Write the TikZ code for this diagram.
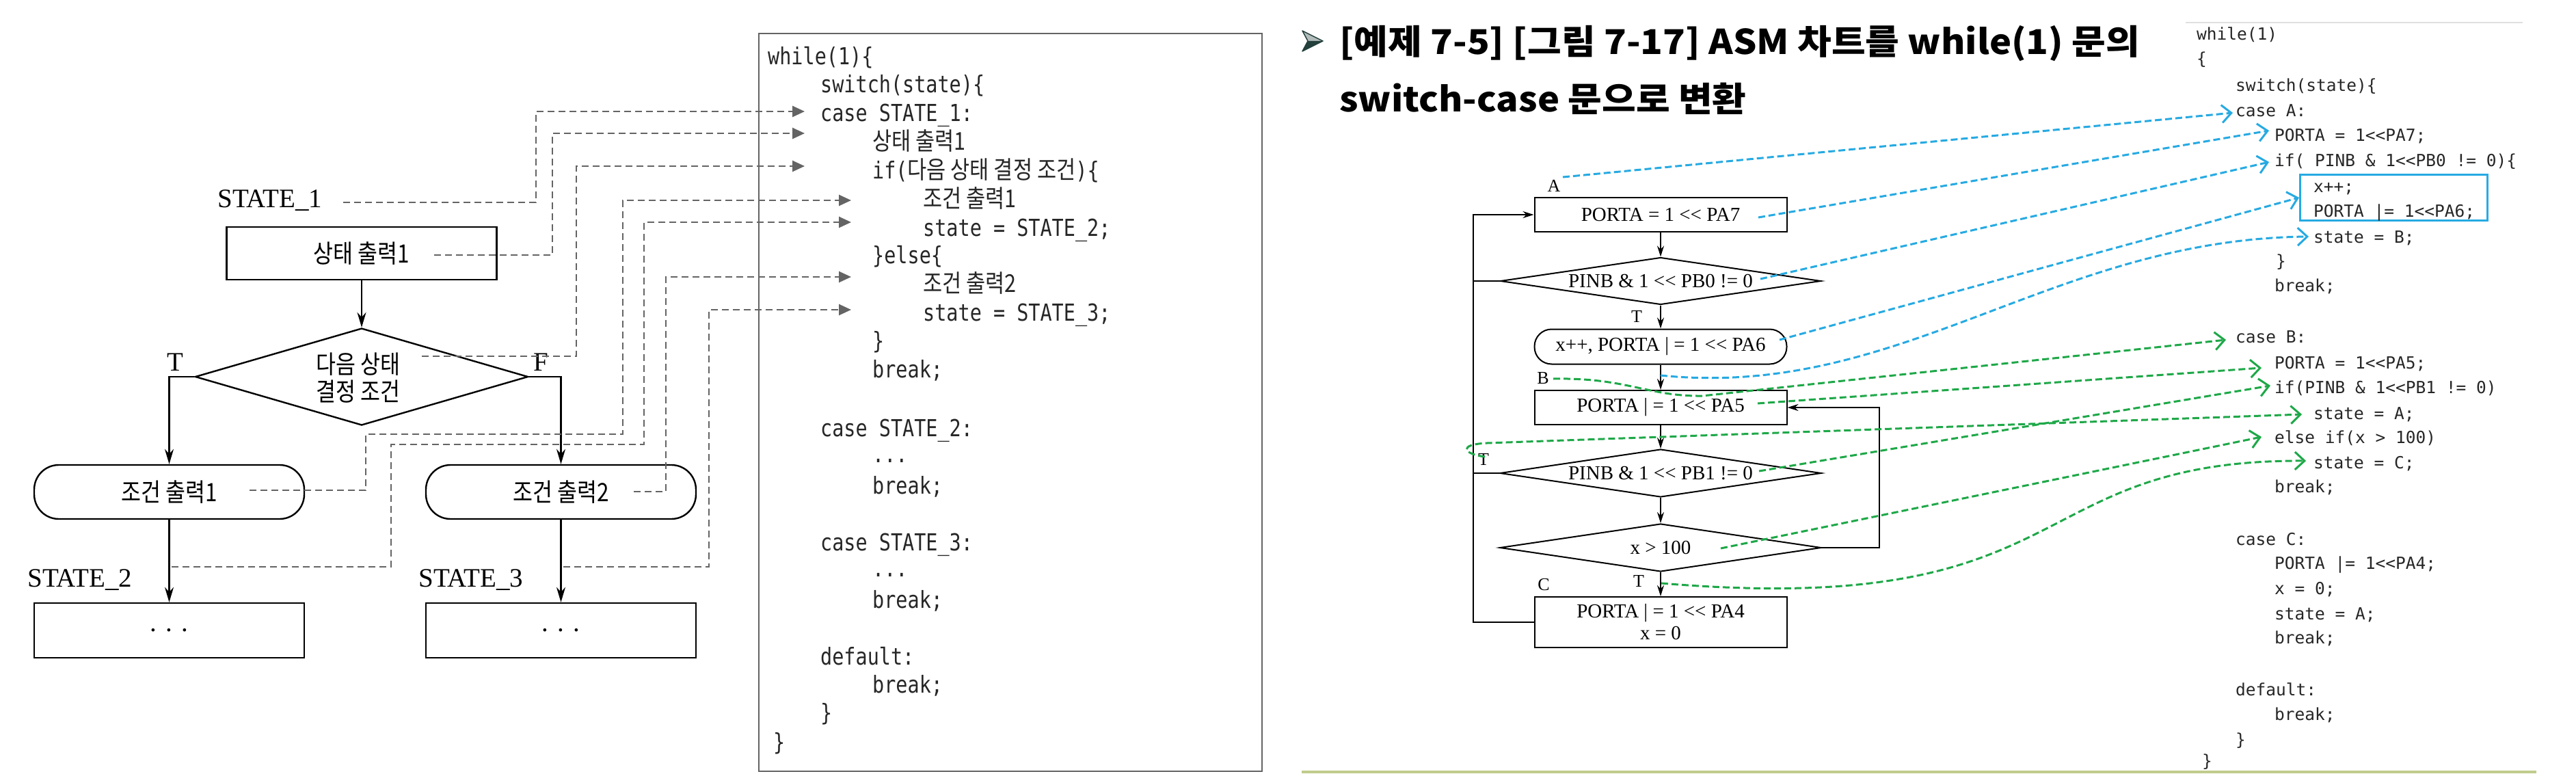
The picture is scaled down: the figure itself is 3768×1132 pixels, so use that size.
\documentclass[tikz,border=0pt]{standalone}
\usepackage{fontspec}
\setmainfont{Liberation Serif}
\newfontfamily\krf{Noto Sans CJK KR}[FakeStretch=0.85]
\newfontfamily\krtitle{Noto Sans CJK KR}[FakeStretch=1.08]
\newfontfamily\lmonof{DejaVu Sans Mono}[FakeStretch=0.83]
\newfontfamily\rmonof{DejaVu Sans Mono}
\usetikzlibrary{arrows.meta,shapes.geometric}
\newcommand\KR[1]{{\krf\fontsize{36pt}{42pt}\selectfont #1}}
\newcommand\shl{<{}<}
\definecolor{cblue}{RGB}{38,170,226}
\definecolor{cgreen}{RGB}{30,168,72}
\definecolor{dgray}{RGB}{100,100,100}
\definecolor{lineolive}{RGB}{192,204,140}
\definecolor{bulletc}{RGB}{36,64,60}
\begin{document}
\begin{tikzpicture}[x=1pt,y=-1pt,
  lbox/.style={draw, line width=2.4pt, inner sep=0pt, minimum width=395pt, minimum height=77pt, font=\krf\fontsize{37pt}{40pt}\selectfont},
  lround/.style={lbox, rounded corners=36pt, minimum height=79pt},
  ldia/.style={draw, diamond, line width=2.4pt, inner sep=0pt, minimum width=487pt, minimum height=142pt},
  llab/.style={font=\fontsize{39pt}{39pt}\selectfont, inner sep=0pt},
  larr/.style={line width=2.4pt, -{Stealth[length=22pt,width=13pt]}},
  gdash/.style={draw=dgray, line width=2.6pt, dash pattern=on 10pt off 6pt, -{Triangle[length=18pt,width=16pt]}},
  lcode/.style={anchor=base west, inner sep=0pt, font=\lmonof\fontsize{34.3pt}{42pt}\selectfont, text=black!85},
  rcode/.style={anchor=base west, inner sep=0pt, font=\rmonof\fontsize{24.5pt}{37pt}\selectfont, text=black!85},
  rbox/.style={draw, line width=2pt, inner sep=0pt, minimum width=369pt, minimum height=50pt, font=\fontsize{29pt}{32pt}\selectfont},
  rdia/.style={draw, diamond, line width=2pt, inner sep=0pt, minimum width=470pt, minimum height=70pt},
  rtext/.style={font=\fontsize{29pt}{32pt}\selectfont, inner sep=0pt},
  rlab/.style={font=\fontsize{26pt}{26pt}\selectfont, inner sep=0pt},
  rarr/.style={line width=2pt, -{Stealth[length=16pt,width=10pt]}},
  rline/.style={line width=2pt},
  bconn/.style={draw=cblue, line width=3pt, dash pattern=on 10pt off 5pt, -{Straight Barb[length=14pt,width=26pt,line width=3pt]}},
  gconn/.style={bconn, draw=cgreen}
]
\useasboundingbox (0,0) rectangle (3768,1132);

% ---------------- left flowchart ----------------
\node[llab] (s1) at (395,293) {STATE\_1};
\node[lbox] (box1) at (529,370.5) {상태 출력1};
\node[ldia] (dia) at (529,551) {};
\node[font=\krf\fontsize{37pt}{40pt}\selectfont, align=center, inner sep=0pt] (diat) at (524,553) {다음 상태\\결정 조건};
\node[llab] (tl) at (256,530) {T};
\node[llab] (fl) at (791,530) {F};
\node[lround] (r1) at (247.5,719.5) {조건 출력1};
\node[lround] (r2) at (820.5,719.5) {조건 출력2};
\node[llab] (s2) at (117,848) {STATE\_2};
\node[llab] (s3) at (689,848) {STATE\_3};
\node[lbox, minimum height=80pt, font=\fontsize{39pt}{39pt}\selectfont] (e1) at (247.5,922) {. . .};
\node[lbox, minimum height=80pt, font=\fontsize{39pt}{39pt}\selectfont] (e2) at (820.5,922) {. . .};

\draw[larr] (box1) -- (dia);
\draw[larr] (dia.west) -| (r1.north);
\draw[larr] (dia.east) -| (r2.north);
\draw[larr] (r1) -- (e1);
\draw[larr] (r2) -- (e2);

% ---------------- left code ----------------
\node[draw=dgray, line width=2pt, minimum width=736pt, minimum height=1079pt, anchor=north west, inner sep=0pt] (cbox) at (1109,48) {};
\node[lcode] (lc1) at (1123,95) {while(1)\{};
\node[lcode] (lc2) at (1200,135) {switch(state)\{};
\node[lcode] (lc3) at (1200,177) {case STATE\_1:};
\node[lcode] (lc4) at (1276,219) {\KR{상태 출력1}};
\node[lcode] (lc5) at (1276,261) {if(\KR{다음 상태 결정 조건})\{};
\node[lcode] (lc6) at (1350,303) {\KR{조건 출력1}};
\node[lcode] (lc7) at (1350,345) {state = STATE\_2;};
\node[lcode] (lc8) at (1276,385) {\}else\{};
\node[lcode] (lc9) at (1350,427) {\KR{조건 출력2}};
\node[lcode] (lc10) at (1350,469) {state = STATE\_3;};
\node[lcode] (lc11) at (1276,510) {\}};
\node[lcode] (lc12) at (1276,552) {break;};
\node[lcode] (lc13) at (1200,638) {case STATE\_2:};
\node[lcode] (lc14) at (1276,676) {...};
\node[lcode] (lc15) at (1276,722) {break;};
\node[lcode] (lc16) at (1200,805) {case STATE\_3:};
\node[lcode] (lc17) at (1276,843) {...};
\node[lcode] (lc18) at (1276,889) {break;};
\node[lcode] (lc19) at (1200,972) {default:};
\node[lcode] (lc20) at (1276,1013) {break;};
\node[lcode] (lc21) at (1200,1054) {\}};
\node[lcode] (lc22) at (1131,1097) {\}};

% dashed connectors left
\coordinate (p1) at (502,296);
\coordinate (p2) at (635,373);
\coordinate (p3) at (617,521);
\coordinate (p4) at (365,717);
\coordinate (p5) at (251,829);
\coordinate (p6) at (927,719);
\coordinate (p7) at (824,829);
\coordinate (tp1) at (1177,163);
\coordinate (tp2) at (1177,195);
\coordinate (tp3) at (1177,243);
\coordinate (tp4) at (1245,293);
\coordinate (tp5) at (1245,325);
\coordinate (tp6) at (1245,405);
\coordinate (tp7) at (1245,453);
\draw[gdash] (p1) -- ++(282,0) |- (tp1);
\draw[gdash] (p2) -- ++(173,0) |- (tp2);
\draw[gdash] (p3) -- ++(226,0) |- (tp3);
\draw[gdash] (p4) -- ++(170,0) -- ++(0,-82) -- ++(376,0) |- (tp4);
\draw[gdash] (p5) -- ++(321,0) -- ++(0,-179) -- ++(370,0) |- (tp5);
\draw[gdash] (p6) -- ++(47,0) |- (tp6);
\draw[gdash] (p7) -- ++(213,0) |- (tp7);

% ---------------- title ----------------
\fill[bulletc!35] (1905,45) -- (1935,60) -- (1913,60) -- cycle;
\fill[bulletc] (1913,60) -- (1935,60) -- (1905,75) -- cycle;
\draw[bulletc, line width=1.5pt, line join=round] (1905,45) -- (1935,60) -- (1905,75) -- (1913,60) -- cycle;
\node[anchor=base west, inner sep=0pt, font=\krtitle\bfseries\fontsize{50pt}{60pt}\selectfont] (ti1) at (1959,80) {[예제 7-5] [그림 7-17] ASM 차트를 while(1) 문의};
\node[anchor=base west, inner sep=0pt, font=\krtitle\bfseries\fontsize{50pt}{60pt}\selectfont] (ti2) at (1959,163) {switch-case 문으로 변환};

% ---------------- right flowchart ----------------
\node[rlab] (la) at (2273,272) {A};
\node[rbox] (ba) at (2429,314) {PORTA = 1 \shl{} PA7};
\node[rdia, minimum width=469pt, minimum height=69pt] (d0) at (2429,411) {};
\node[rtext] (d0t) at (2429,411) {PINB \& 1 \shl{} PB0 != 0};
\node[rlab] (rt0) at (2394,463) {T};
\node[rbox, rounded corners=25pt, minimum height=51pt] (rx) at (2429,507) {x++, PORTA | = 1 \shl{} PA6};
\node[rlab] (lb) at (2257,553) {B};
\node[rbox] (bb) at (2429,596) {PORTA | = 1 \shl{} PA5};
\node[rdia] (d1) at (2429,692) {};
\node[rtext] (d1t) at (2429,692) {PINB \& 1 \shl{} PB1 != 0};
\node[rlab] (rt1) at (2170,672) {T};
\node[rdia] (d2) at (2429,801) {};
\node[rtext] (d2t) at (2429,801) {x > 100};
\node[rlab] (rt2) at (2397,850) {T};
\node[rlab] (lcc) at (2258,855) {C};
\node[rbox, minimum height=74pt, align=center] (bc) at (2429,910) {PORTA | = 1 \shl{} PA4\\x = 0};

\coordinate (loopx) at (2154.5,0);
\draw[rarr] (ba) -- (d0);
\draw[rarr] (d0) -- (rx);
\draw[rarr] (rx) -- (bb);
\draw[rarr] (bb) -- (d1);
\draw[rarr] (d1) -- (d2);
\draw[rarr] (d2) -- (bc);
\draw[rarr] (bc.west) -- (bc.west -| loopx) |- (ba.west);
\draw[rline] (d0.west) -- (d0.west -| loopx);
\draw[rline] (d1.west) -- (d1.west -| loopx);
\draw[rarr] (d2.east) -- ++(84,0) |- (bb.east);

% ---------------- right code ----------------
\draw[black!12, line width=2pt] (3197,33) -- (3690,33);
\node[rcode] (rc1) at (3213,59) {while(1)};
\node[rcode] (rc2) at (3213,95) {\{};
\node[rcode] (rc3) at (3270,133) {switch(state)\{};
\node[rcode] (rc4) at (3270,170) {case A:};
\node[rcode] (rc5) at (3327,206) {PORTA = 1\shl PA7;};
\node[rcode] (rc6) at (3327,243) {if( PINB \& 1\shl PB0 != 0)\{};
\node[draw=cblue, line width=3pt, minimum width=274pt, minimum height=67pt, anchor=north west, inner sep=0pt] (xbox) at (3363,254) {};
\node[rcode] (rc7) at (3384,281) {x++;};
\node[rcode] (rc8) at (3384,317) {PORTA |= 1\shl PA6;};
\node[rcode] (rc9) at (3384,355) {state = B;};
\node[rcode] (rc10) at (3329,390) {\}};
\node[rcode] (rc11) at (3327,426) {break;};
\node[rcode] (rc12) at (3270,501) {case B:};
\node[rcode] (rc13) at (3327,539) {PORTA = 1\shl PA5;};
\node[rcode] (rc14) at (3327,575) {if(PINB \& 1\shl PB1 != 0)};
\node[rcode] (rc15) at (3384,613) {state = A;};
\node[rcode] (rc16) at (3327,648) {else if(x > 100)};
\node[rcode] (rc17) at (3384,685) {state = C;};
\node[rcode] (rc18) at (3327,720) {break;};
\node[rcode] (rc19) at (3270,797) {case C:};
\node[rcode] (rc20) at (3327,832) {PORTA |= 1\shl PA4;};
\node[rcode] (rc21) at (3327,869) {x = 0;};
\node[rcode] (rc22) at (3327,906) {state = A;};
\node[rcode] (rc23) at (3327,941) {break;};
\node[rcode] (rc24) at (3270,1017) {default:};
\node[rcode] (rc25) at (3327,1053) {break;};
\node[rcode] (rc26) at (3270,1090) {\}};
\node[rcode] (rc27) at (3221,1121) {\}};

% ---------------- blue / green connectors ----------------
\coordinate (bs1) at (2286,259);
\coordinate (bs2) at (2572,318);
\coordinate (bs3) at (2575,408);
\coordinate (bs4) at (2603,497);
\coordinate (bs5) at (2429,549);
\coordinate (bt1) at (3266,165);
\coordinate (bt2) at (3319,191);
\coordinate (bt3) at (3319,237);
\coordinate (bt5) at (3377,346);
\coordinate (gs1) at (2272,554);
\coordinate (gs2) at (2571,590);
\coordinate (gs3) at (2172,668);
\coordinate (gs4) at (2573,689);
\coordinate (gs5) at (2517,802);
\coordinate (gs6) at (2430,853);
\coordinate (gt1) at (3256,497);
\coordinate (gt2) at (3308,538);
\coordinate (gt3) at (3367,606);
\coordinate (gt4) at (3321,564);
\coordinate (gt5) at (3308,639);
\coordinate (gt6) at (3373,674);

\draw[bconn] (bs1) -- (bt1);
\draw[bconn] (bs2) -- (bt2);
\draw[bconn] (bs3) -- (bt3);
\draw[bconn] (bs4) -- (xbox.west);
\draw[bconn] (bs5) .. controls (2780,585) and (3000,350) .. (bt5);

\draw[gconn] (gs1) .. controls (2380,552) and (2410,580) .. (2490,579) -- (gt1);
\draw[gconn] (gs2) -- (gt2);
\draw[gconn] (gs3) .. controls (2140,664) and (2132,650) .. (2175,648) -- (gt3);
\draw[gconn] (gs4) -- (gt4);
\draw[gconn] (gs5) -- (gt5);
\draw[gconn] (gs6) .. controls (3050,905) and (2950,672) .. (gt6);

% bottom line
\draw[lineolive, line width=4pt] (1904,1129) -- (3710,1129);
\end{tikzpicture}
\end{document}
